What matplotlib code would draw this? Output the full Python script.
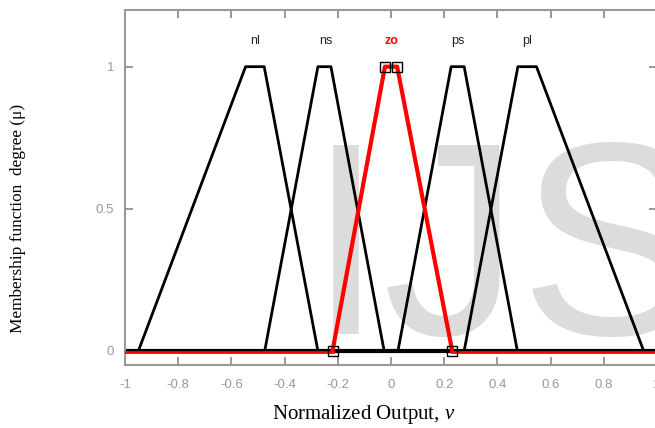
import numpy as np
import matplotlib.pyplot as plt

plt.rcParams['axes.unicode_minus'] = False
plt.rcParams['mathtext.fontset'] = 'custom'
plt.rcParams['mathtext.rm'] = 'Liberation Serif'
plt.rcParams['mathtext.it'] = 'Liberation Serif:italic'

# membership functions (trapezoid breakpoints)
names = ['nl', 'ns', 'zo', 'ps', 'pl']
mf_x = [
    [-0.95, -0.547, -0.477, -0.275],
    [-0.475, -0.275, -0.226, -0.026],
    [-0.22, -0.023, 0.023, 0.23],
    [0.026, 0.226, 0.275, 0.475],
    [0.275, 0.477, 0.547, 0.95],
]
mf_y = [0, 1, 1, 0]
label_x = [-0.513, -0.245, 0.0, 0.25, 0.51]
selected = 2

fig = plt.figure(figsize=(6.55, 4.28), dpi=100)
ax = fig.add_axes([0.191, 0.147, 0.812, 0.830])

# watermark
ax.text(-0.313, 0.06, 'IJS', fontsize=197, color='#dcdcdc', family='Liberation Sans',
        ha='left', va='baseline', zorder=0)

ax.plot([-1, 1], [0, 0], color='black', lw=3, zorder=2)
for i, xs in enumerate(mf_x):
    if i == selected:
        continue
    ax.plot(xs, mf_y, color='black', lw=2, zorder=3)
    ax.text(label_x[i], 1.09, names[i], ha='center', va='center', fontsize=9,
            color='#222222', family='Liberation Sans')

zx = mf_x[selected]
ax.plot([-1, zx[0]], [-0.004, -0.004], color='red', lw=2, zorder=4)
ax.plot([zx[3], 1], [-0.004, -0.004], color='red', lw=2, zorder=4)
ax.plot(zx, mf_y, color='red', lw=3, zorder=5)
ax.plot(zx, mf_y, ls='none', marker='s', ms=7, mfc='none', mec='black', mew=1, zorder=6)
ax.text(label_x[selected], 1.09, names[selected], ha='center', va='center', fontsize=9,
        color='red', fontweight='bold', family='Liberation Sans')

ax.set_xlim(-1, 1)
ax.set_ylim(-0.05, 1.2)
ax.set_xticks(np.arange(-1, 1.01, 0.2))
ax.set_xticklabels(['-1', '-0.8', '-0.6', '-0.4', '-0.2', '0', '0.2', '0.4', '0.6', '0.8', '1'])
ax.set_yticks([0, 0.5, 1])
ax.set_yticklabels(['0', '0.5', '1'])
ax.tick_params(direction='in', top=True, right=True, length=6, width=1.2, color='#888888',
               labelcolor='#999999', labelsize=9.5, pad=8)
ax.tick_params(axis='x', pad=10)
for lab in ax.get_xticklabels() + ax.get_yticklabels():
    lab.set_family('Liberation Sans')
for s in ax.spines.values():
    s.set_color('#999999')
    s.set_linewidth(1.5)

fig.text(0.556, 0.032, r'Normalized Output, $\it{v}$', ha='center', va='center',
         fontsize=15, family='Liberation Serif')
fig.text(0.028, 0.49, 'Membership function  degree (\u03bc)', rotation=90, ha='center',
         va='center', fontsize=12.4, family='Liberation Serif')

fig.savefig('out.png', dpi=100)
